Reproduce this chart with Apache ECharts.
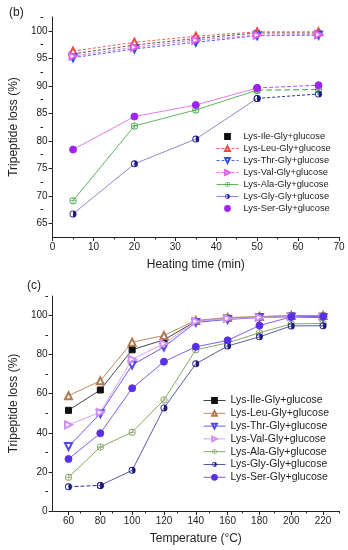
<!DOCTYPE html>
<html>
<head>
<meta charset="utf-8">
<script src="https://cdn.jsdelivr.net/npm/echarts@6/dist/echarts.min.js"></script>
<style>html,body{margin:0;padding:0;background:#fff}#c{width:348px;height:550px}</style>
</head>
<body>
<div id="c"></div>
<script>
// ---------- data ----------
const seriesNames = ['Lys-Ile-Gly+glucose','Lys-Leu-Gly+glucose','Lys-Thr-Gly+glucose','Lys-Val-Gly+glucose','Lys-Ala-Gly+glucose','Lys-Gly-Gly+glucose','Lys-Ser-Gly+glucose'];

// panel (b): heating time (min)
const timeB = [5, 20, 35, 50, 65];
const lossB_Ile = [95.8, 97.4, 98.6, 99.6, 99.6];
const lossB_Leu = [96.3, 97.9, 99.0, 99.8, 99.8];
const lossB_Thr = [95.1, 96.7, 97.9, 99.1, 99.2];
const lossB_Val = [95.4, 97.0, 98.3, 99.2, 99.3];
const lossB_Ala = [69.1, 82.7, 85.6, 89.2, 89.3];
const lossB_Gly = [66.7, 75.8, 80.3, 87.7, 88.5];
const lossB_Ser = [78.4, 84.4, 86.5, 89.6, 90.1];
const ticksBx = [0, 10, 20, 30, 40, 50, 60, 70];
const ticksBy = [65, 70, 75, 80, 85, 90, 95, 100];
const minorBy = [67.5, 72.5, 77.5, 82.5, 87.5, 92.5, 97.5, 102.5];

// panel (c): temperature (°C)
const tempC = [60, 80, 100, 120, 140, 160, 180, 200, 220];
const lossC_Ile = [51.5, 61.9, 82.5, 87.6, 97.0, 98.7, 99.3, 99.8, 99.7];
const lossC_Leu = [59.0, 66.6, 86.4, 89.8, 97.5, 99.0, 99.5, 100.0, 100.0];
const lossC_Thr = [33.0, 49.8, 74.7, 83.9, 96.5, 98.0, 99.0, 99.3, 98.9];
const lossC_Val = [44.1, 50.5, 77.6, 85.6, 97.0, 98.5, 99.0, 99.5, 99.5];
const lossC_Ala = [17.3, 32.7, 40.3, 56.8, 82.5, 86.0, 91.2, 95.7, 96.0];
const lossC_Gly = [12.4, 13.1, 20.8, 52.7, 75.3, 84.4, 89.1, 94.7, 94.8];
const lossC_Ser = [26.6, 39.8, 62.8, 76.4, 84.0, 87.3, 94.9, 99.3, 99.5];
const ticksCx = [60, 80, 100, 120, 140, 160, 180, 200, 220];
const minorCx = [70, 90, 110, 130, 150, 170, 190, 210, 230];
const ticksCy = [0, 20, 40, 60, 80, 100];
const minorCy = [10, 30, 50, 70, 90, 110];

// ---------- styling ----------
const FONT = 'Arial, "Liberation Sans", sans-serif';
const halfCircle = 'path://M12,0A12,12 0 1,1 12,24A12,12 0 1,1 12,0ZM12,3A9,9 0 0,0 12,21Z';
const circlePlus = 'path://M12,0A12,12 0 1,1 12,24A12,12 0 1,1 12,0ZM12,2.6A9.4,9.4 0 1,0 12,21.4A9.4,9.4 0 1,0 12,2.6ZM11,2.6H13V21.4H11ZM2.6,11H21.4V13H2.6Z';

// tail: index from which the line becomes dashed; head: index up to which it is dashed
const styleB = [
  {sym:'rect', size:5, c:'#111', line:'#555', dash:[3,2]},
  {sym:'emptyTriangle', size:7, c:'#f04848', line:'#f06060', dash:[3,2]},
  {sym:'emptyTriangle', size:7, rot:180, c:'#3452e0', line:'#4a66e8', dash:[3,2]},
  {sym:'emptyTriangle', size:7, rot:-90, c:'#e060e8', line:'#e070e8', dash:[3,2]},
  {sym:circlePlus, size:7, c:'#3aa03a', line:'#5cb85c', bw:0, tail:3, tailDash:[6,3], tailColor:'#3aa03a'},
  {sym:halfCircle, size:7, c:'#1c1c80', line:'#8a8ad0', bw:0, tail:3, tailDash:[3,2], tailColor:'#2a3a9a'},
  {sym:'circle', size:7, c:'#a024f0', line:'#e47ce8', tail:3, tailDash:[4,2], tailColor:'#b050f0'}
];
const styleC = [
  {sym:'rect', size:6, c:'#111', line:'#444'},
  {sym:'emptyTriangle', size:7, c:'#b07a50', line:'#c08a60'},
  {sym:'emptyTriangle', size:7, rot:180, c:'#5648e8', line:'#6a5cf0'},
  {sym:'emptyTriangle', size:7, rot:-90, c:'#d090f0', line:'#d8a4f6'},
  {sym:circlePlus, size:7, c:'#7c9c5c', line:'#8aa86c', bw:0},
  {sym:halfCircle, size:7, c:'#1c1c80', line:'#5a5aa8', bw:0, head:1, headDash:[4,2], headColor:'#2a2a90'},
  {sym:'circle', size:7, c:'#5a30e4', line:'#7a60ec'}
];

const dataB = [lossB_Ile, lossB_Leu, lossB_Thr, lossB_Val, lossB_Ala, lossB_Gly, lossB_Ser];
const dataC = [lossC_Ile, lossC_Leu, lossC_Thr, lossC_Val, lossC_Ala, lossC_Gly, lossC_Ser];

function baseSeries(name, pts, st, axis, lineColor, dash) {
  const s = {
    type: 'line', xAxisIndex: axis, yAxisIndex: axis,
    data: pts,
    symbol: st.sym, symbolSize: st.size, symbolRotate: st.rot || 0,
    showAllSymbol: true,
    itemStyle: {color: st.c, borderColor: st.c, borderWidth: st.bw === undefined ? 1 : st.bw},
    lineStyle: {color: lineColor, width: 1, type: dash || 'solid'},
    emphasis: {disabled: true},
    z: 3
  };
  if (name) s.name = name;
  return s;
}
const series = [];
function addSeries(prefix, xs, ys, st, idx, axis) {
  const pts = xs.map((x, i) => [x, ys[i]]);
  const name = prefix + seriesNames[idx];
  if (st.tail !== undefined) {
    series.push(baseSeries(name, pts.slice(0, st.tail + 1), st, axis, st.line, st.dash));
    series.push(baseSeries(null, pts.slice(st.tail), st, axis, st.tailColor, st.tailDash));
  } else if (st.head !== undefined) {
    series.push(baseSeries(name, pts.slice(st.head), st, axis, st.line, st.dash));
    series.push(baseSeries(null, pts.slice(0, st.head + 1), st, axis, st.headColor, st.headDash));
  } else {
    series.push(baseSeries(name, pts, st, axis, st.line, st.dash));
  }
}
for (let i = 0; i < 7; i++) addSeries('b:', timeB, dataB[i], styleB[i], i, 0);
for (let i = 0; i < 7; i++) addSeries('c:', tempC, dataC[i], styleC[i], i, 1);

const axLabel = {fontFamily: FONT, fontSize: 10, color: '#222'};
const axLine = {show: true, lineStyle: {color: '#222', width: 1}};
const nameStyle = {fontFamily: FONT, fontSize: 12, color: '#222'};

const gridB = {left: 43, right: 9, top: 17, height: 220};
const gridC = {left: 48, right: 9, top: 296, height: 215};

const legendB = seriesNames.map((n, i) => {
  const d = {name: 'b:' + n};
  if (i === 0 || i === 6) d.lineStyle = {opacity: 0};
  return d;
});

const option = {
  animation: false,
  backgroundColor: '#fff',
  title: [
    {text: '(b)', left: 4, top: 2, textStyle: {fontFamily: FONT, fontSize: 12, fontWeight: 'normal', color: '#222'}},
    {text: '(c)', left: 22, top: 275, textStyle: {fontFamily: FONT, fontSize: 12, fontWeight: 'normal', color: '#222'}}
  ],
  grid: [gridB, gridC, gridB, gridC],
  legend: [
    {orient: 'vertical', left: 216, top: 132, padding: 0, itemWidth: 22, itemHeight: 6, itemGap: 3,
     data: legendB, formatter: n => n.slice(2), lineStyle: {width: 1},
     textStyle: {fontFamily: FONT, fontSize: 9.3, color: '#222'}, selectedMode: false},
    {orient: 'vertical', left: 203, top: 395, padding: 0, itemWidth: 22, itemHeight: 6, itemGap: 1.8,
     data: seriesNames.map(n => 'c:' + n), formatter: n => n.slice(2), lineStyle: {width: 1},
     textStyle: {fontFamily: FONT, fontSize: 10.5, color: '#222'}, selectedMode: false}
  ],
  xAxis: [
    {type: 'value', gridIndex: 0, min: 0, max: 70, interval: 10,
     name: 'Heating time (min)', nameLocation: 'middle', nameGap: 22, nameTextStyle: nameStyle,
     axisLine: axLine, axisTick: {show: true, length: 4, lineStyle: {color: '#222'}},
     minorTick: {show: true, splitNumber: 2, length: 2.5, lineStyle: {color: '#222'}},
     axisLabel: Object.assign({margin: 5, customValues: ticksBx}, axLabel), splitLine: {show: false}},
    {type: 'value', gridIndex: 1, min: 50, max: 230,
     name: 'Temperature (°C)', nameLocation: 'middle', nameGap: 22, nameTextStyle: nameStyle,
     axisLine: axLine, axisTick: {show: true, length: 4, customValues: ticksCx, lineStyle: {color: '#222'}},
     axisLabel: Object.assign({margin: 5, customValues: ticksCx}, axLabel), splitLine: {show: false}},
    {type: 'value', gridIndex: 2, min: 0, max: 70, show: false},
    {type: 'value', gridIndex: 3, min: 50, max: 230,
     axisLine: {show: false}, axisLabel: {show: false}, splitLine: {show: false},
     axisTick: {show: true, length: 2.5, customValues: minorCx, lineStyle: {color: '#222'}}}
  ],
  yAxis: [
    {type: 'value', gridIndex: 0, min: 62.5, max: 102.5,
     name: 'Tripeptide loss (%)', nameLocation: 'middle', nameGap: 30, nameTextStyle: nameStyle,
     axisLine: axLine, axisTick: {show: true, length: 4, customValues: ticksBy, lineStyle: {color: '#222'}},
     axisLabel: Object.assign({margin: 5, customValues: ticksBy}, axLabel), splitLine: {show: false}},
    {type: 'value', gridIndex: 1, min: 0, max: 110,
     name: 'Tripeptide loss (%)', nameLocation: 'middle', nameGap: 27, nameTextStyle: nameStyle,
     axisLine: axLine, axisTick: {show: true, length: 4, customValues: ticksCy, lineStyle: {color: '#222'}},
     axisLabel: Object.assign({margin: 5, customValues: ticksCy}, axLabel), splitLine: {show: false}},
    {type: 'value', gridIndex: 2, min: 62.5, max: 102.5,
     axisLine: {show: false}, axisLabel: {show: false}, splitLine: {show: false},
     axisTick: {show: true, length: 2.5, customValues: minorBy, lineStyle: {color: '#222'}}},
    {type: 'value', gridIndex: 3, min: 0, max: 110,
     axisLine: {show: false}, axisLabel: {show: false}, splitLine: {show: false},
     axisTick: {show: true, length: 2.5, customValues: minorCy, lineStyle: {color: '#222'}}}
  ],
  series: series
};

const chart = echarts.init(document.getElementById('c'), null, {renderer: 'canvas'});
chart.setOption(option);
</script>
</body>
</html>
